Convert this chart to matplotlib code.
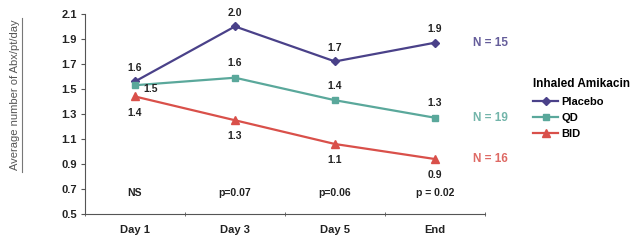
import matplotlib
matplotlib.use("Agg")
import matplotlib.pyplot as plt
from matplotlib.lines import Line2D

plt.rcParams['font.family'] = ['Liberation Sans', 'DejaVu Sans']

# データ
days = ["Day 1", "Day 3", "Day 5", "End"]
placebo = [1.56, 2.00, 1.72, 1.87]
qd = [1.53, 1.59, 1.41, 1.27]
bid = [1.44, 1.25, 1.06, 0.94]
placebo_lbl = ["1.6", "2.0", "1.7", "1.9"]
qd_lbl = ["1.5", "1.6", "1.4", "1.3"]
bid_lbl = ["1.4", "1.3", "1.1", "0.9"]
p_values = ["NS", "p=0.07", "p=0.06", "p = 0.02"]
n_labels = ["N = 15", "N = 19", "N = 16"]

c_pl = '#4a4189'
c_qd = '#5aa89b'
c_bid = '#d9504a'
txt = '#222222'

fig = plt.figure(figsize=(6.37, 2.4), dpi=100)
ax = fig.add_axes([0.1334, 0.108, 0.628, 0.834])

x = range(len(days))
ax.plot(x, placebo, color=c_pl, marker='D', markersize=4, lw=1.6, label='Placebo')
ax.plot(x, qd, color=c_qd, marker='s', markersize=5, lw=1.6, label='QD')
ax.plot(x, bid, color=c_bid, marker='^', markersize=5.5, lw=1.6, label='BID')

ax.set_xlim(-0.5, 3.5)
ax.set_ylim(0.5, 2.1)
ax.set_yticks([0.5, 0.7, 0.9, 1.1, 1.3, 1.5, 1.7, 1.9, 2.1])
ax.set_yticklabels(["0.5", "0.7", "0.9", "1.1", "1.3", "1.5", "1.7", "1.9", "2.1"],
                   fontweight='bold', fontsize=8, color=txt)
ax.set_xticks(list(x))
ax.set_xticklabels(days, fontweight='bold', fontsize=8, color=txt)
ax.tick_params(axis='x', length=0, pad=8)
ax.set_xticks([-0.5, 0.5, 1.5, 2.5, 3.5], minor=True)
ax.tick_params(axis='x', which='minor', length=3, direction='inout', color='#555555')
ax.tick_params(axis='y', length=3, color='#555555', pad=3)
for s in ['top', 'right']:
    ax.spines[s].set_visible(False)
for s in ['left', 'bottom']:
    ax.spines[s].set_color('#555555')
    ax.spines[s].set_linewidth(0.8)

kw = dict(fontsize=7.5, fontweight='bold', color=txt, ha='center')
for i in x:
    ax.annotate(placebo_lbl[i], (i, placebo[i]), xytext=(0, 6), textcoords='offset points', va='bottom', **kw)
    ax.annotate(bid_lbl[i], (i, bid[i]), xytext=(0, -8), textcoords='offset points', va='top', **kw)
    if i == 0:
        ax.annotate(qd_lbl[i], (i, qd[i]), xytext=(11, -3), textcoords='offset points', va='center', **kw)
    else:
        ax.annotate(qd_lbl[i], (i, qd[i]), xytext=(0, 7), textcoords='offset points', va='bottom', **kw)
    ax.text(i, 0.665, p_values[i], va='center', **kw)

n_y = [placebo[-1], qd[-1], bid[-1]]
for lbl, yv, col in zip(n_labels, n_y, [c_pl, c_qd, c_bid]):
    ax.annotate(lbl, (3, yv), xytext=(27, 0), textcoords='offset points', va='center',
                ha='left', fontsize=8.5, fontweight='bold', color=col, alpha=0.85, annotation_clip=False)

# y軸ラベル (下線付き)
fig.text(15 / 637, 1 - 95 / 240, "Average number of Abx/pt/day", rotation=90,
         fontsize=8, color='#555555', ha='center', va='center')
fig.add_artist(Line2D([21.5 / 637, 21.5 / 637], [1 - 18 / 240, 1 - 172 / 240],
                      color='#777777', lw=0.8))

leg = ax.legend(loc='upper left', bbox_to_anchor=(1.11, 0.70), frameon=False,
                prop={'size': 8, 'weight': 'bold'}, handlelength=2.2, handletextpad=0.3,
                labelspacing=0.55, borderaxespad=0)
leg.set_title("Inhaled Amikacin", prop={'size': 8.5, 'weight': 'bold'})
leg._legend_box.align = 'left'

fig.savefig("out.png", dpi=100)
